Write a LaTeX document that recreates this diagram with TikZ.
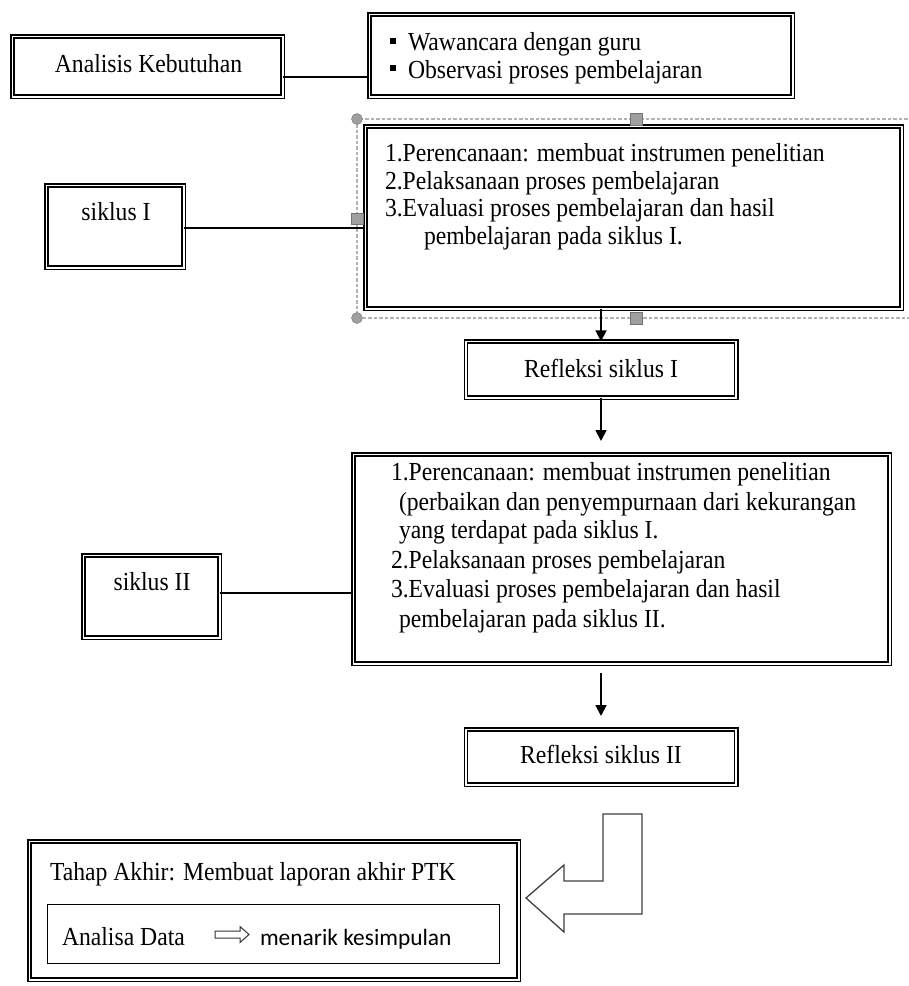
\documentclass[tikz,border=0pt]{standalone}
\usepackage{fontspec}
\setmainfont{Liberation Serif}[FakeStretch=0.91]
\newfontfamily\sansf{Carlito}
\usetikzlibrary{arrows.meta}
\begin{document}
\begin{tikzpicture}[x=1pt,y=-1pt,
  dbox/.style={draw, line width=1.5pt, double, double distance=1.6pt, inner sep=0pt, outer sep=0pt},
  sbox/.style={draw, line width=1.3pt, inner sep=0pt, outer sep=0pt},
  selframe/.style={draw=gray!60, line width=1.3pt, dash pattern=on 3.5pt off 2pt, inner sep=0pt, outer sep=0pt},
  txt/.style={inner sep=0pt, outer sep=0pt, font=\fontsize{26}{29}\selectfont},
  conn/.style={line width=1.3pt},
  arr/.style={line width=1.8pt, -{Triangle[width=11pt,length=11pt]}},
  hround/.style={circle, fill=gray!75, draw=gray!90!black, line width=0.4pt, minimum size=11pt, inner sep=0pt},
  hsquare/.style={rectangle, fill=gray!75, draw=gray!90!black, line width=0.4pt, minimum size=11.5pt, inner sep=0pt},
  hollow/.style={draw=black!75, line width=1.3pt, line join=miter}
]
\useasboundingbox (0,0) rectangle (909,986);

% ---- top row
\node[dbox, minimum width=270.4pt, minimum height=60.4pt] (ak) at (147.5,66.5) {};
\node[txt, anchor=base] (akt) at (148.5,72) {Analisis Kebutuhan};

\node[dbox, minimum width=423.4pt, minimum height=82.4pt] (ww) at (581,55.5) {};
\fill (390,38) rectangle (395.5,43.5);
\fill (390,65) rectangle (395.5,70.5);
\node[txt, anchor=base west] (ww1) at (408,50) {Wawancara dengan guru};
\node[txt, anchor=base west] (ww2) at (408,78) {Observasi proses pembelajaran};

\coordinate (y1) at (0,77);
\draw[conn] (ak.east |- y1) -- (ww.west |- y1);

% ---- siklus I
\node[selframe, minimum width=558pt, minimum height=199pt] (sel) at (636,218.5) {};
\node[dbox, minimum width=536.4pt, minimum height=182.4pt] (s1) at (633.5,217.5) {};
\node[txt, anchor=base west] (s1a) at (385,161) {1.Perencanaan: membuat instrumen penelitian};
\node[txt, anchor=base west] (s1b) at (385,189) {2.Pelaksanaan proses pembelajaran};
\node[txt, anchor=base west] (s1c) at (385,216) {3.Evaluasi proses pembelajaran dan hasil};
\node[txt, anchor=base west] (s1d) at (424,244) {pembelajaran pada siklus I.};

\node[dbox, minimum width=137.4pt, minimum height=82.4pt] (k1) at (115,226.5) {};
\node[txt, anchor=base] (k1t) at (116,220) {siklus I};
\coordinate (y2) at (0,228);
\draw[conn] (k1.east |- y2) -- (s1.west |- y2);

\node[hround] (h1) at (sel.north west) {};
\node[hround] (h2) at (sel.south west) {};
\node[hsquare] (h3) at (sel.north) {};
\node[hsquare] (h4) at (sel.west) {};
\node[hsquare] (h5) at (sel.south) {};

% ---- refleksi I
\node[dbox, minimum width=270.4pt, minimum height=56.4pt] (r1) at (601,369.5) {};
\node[txt, anchor=base] (r1t) at (601,377) {Refleksi siklus I};
\draw[arr] (r1.north |- s1.south) -- (r1.north);
\coordinate (a2e) at (601,441);
\draw[arr] (r1.south) -- (a2e);

% ---- siklus II
\node[dbox, minimum width=536.4pt, minimum height=209.4pt] (s2) at (621.5,559) {};
\node[txt, anchor=base west] (s2a) at (391,480) {1.Perencanaan: membuat instrumen penelitian};
\node[txt, anchor=base west] (s2b) at (399,510) {(perbaikan dan penyempurnaan dari kekurangan};
\node[txt, anchor=base west] (s2c) at (399,538) {yang terdapat pada siklus I.};
\node[txt, anchor=base west] (s2d) at (391,568) {2.Pelaksanaan proses pembelajaran};
\node[txt, anchor=base west] (s2e) at (391,597) {3.Evaluasi proses pembelajaran dan hasil};
\node[txt, anchor=base west] (s2f) at (399,627) {pembelajaran pada siklus II.};

\node[dbox, minimum width=136.4pt, minimum height=82.4pt] (k2) at (151.5,596.5) {};
\node[txt, anchor=base] (k2t) at (152,590) {siklus II};
\coordinate (y3) at (0,593);
\draw[conn] (k2.east |- y3) -- (s2.west |- y3);

\coordinate (a3s) at (601,673);
\coordinate (a3e) at (601,716);
\draw[arr] (a3s) -- (a3e);

% ---- refleksi II
\node[dbox, minimum width=270.4pt, minimum height=55.4pt] (r2) at (601,757) {};
\node[txt, anchor=base] (r2t) at (601,763) {Refleksi siklus II};

% ---- hollow bent arrow
\draw[hollow] (603,814) -- (642,814) -- (642,914) -- (564,914) -- (564,932)
  -- (526,898) -- (564,865) -- (564,881) -- (603,881) -- cycle;

% ---- final box
\node[dbox, minimum width=489.4pt, minimum height=138.4pt] (fin) at (274,910.5) {};
\node[txt, anchor=base west] (fint) at (50,880) {Tahap Akhir: Membuat laporan akhir PTK};
\node[sbox, minimum width=452pt, minimum height=59pt] (inb) at (273.5,934) {};
\node[txt, anchor=base west] (ad) at (62,945) {Analisa Data};
\draw[black!80, line width=1pt, line join=miter] (215,931) -- (240,931) -- (240,926.5) -- (249,934.5)
  -- (240,942.5) -- (240,938) -- (215,938) -- cycle;
\node[txt, anchor=base west, font=\sansf\fontsize{23.4}{27}\selectfont] (mk) at (260,945) {menarik kesimpulan};
\end{tikzpicture}
\end{document}
